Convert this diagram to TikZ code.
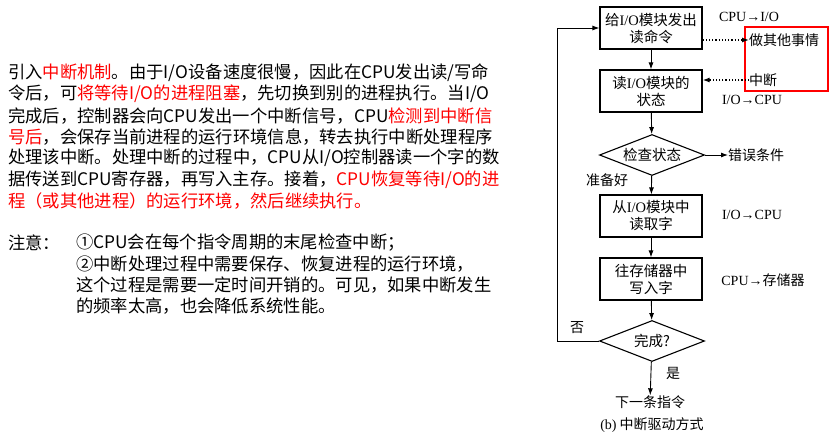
\documentclass[tikz,border=0pt]{standalone}
\usepackage{fontspec}
\setmainfont{Noto Sans CJK SC}
\newfontfamily\ser{Liberation Serif}
\usetikzlibrary{shapes.geometric,arrows.meta}
\begin{document}
\begin{tikzpicture}[x=1pt,y=-1pt,
  txt/.style={anchor=west,inner sep=0,font=\fontsize{17.3}{20}\selectfont},
  fbox/.style={draw,line width=1.2pt,minimum width=102pt,minimum height=42pt,align=center,inner sep=1pt,font=\fontsize{14.5}{17}\selectfont},
  dia/.style={draw,line width=1.1pt,diamond,aspect=2.5,minimum width=105pt,minimum height=41pt,inner sep=0,font=\fontsize{14.5}{17}\selectfont},
  lab/.style={inner sep=0,font=\fontsize{14}{16}\selectfont},
  arr/.style={-{Latex[length=7pt,width=5pt]},line width=0.9pt},
  darr/.style={-{Latex[length=7pt,width=5pt]},line width=1.2pt,dotted}]
\useasboundingbox (0,0) rectangle (834,439);
% left text
\node[txt] (l1) at (8,73) {引入\textcolor{red}{中断机制}。由于I/O设备速度很慢，因此在CPU发出读/写命};
\node[txt] (l2) at (8,94) {令后，可\textcolor{red}{将等待I/O的进程阻塞}，先切换到别的进程执行。当I/O};
\node[txt] (l3) at (8,116) {完成后，控制器会向CPU发出一个中断信号，CPU\textcolor{red}{检测到中断信}};
\node[txt] (l4) at (8,137) {\textcolor{red}{号后}，会保存当前进程的运行环境信息，转去执行中断处理程序};
\node[txt] (l5) at (8,158) {处理该中断。处理中断的过程中，CPU从I/O控制器读一个字的数};
\node[txt] (l6) at (8,180) {据传送到CPU寄存器，再写入主存。接着，\textcolor{red}{CPU恢复等待I/O的进}};
\node[txt] (l7) at (8,201) {\textcolor{red}{程（或其他进程）的运行环境，然后继续执行。}};
\node[txt] (n0) at (8,243) {注意：};
\node[txt] (n1) at (76,243) {①CPU会在每个指令周期的末尾检查中断；};
\node[txt] (n2) at (76,264) {②中断处理过程中需要保存、恢复进程的运行环境，};
\node[txt] (n3) at (76,285) {这个过程是需要一定时间开销的。可见，如果中断发生};
\node[txt] (n4) at (76,306) {的频率太高，也会降低系统性能。};
% flowchart
\node[fbox] (b1) at (651,28) {给{\ser I/O}模块发出\\读命令};
\node[fbox] (b2) at (651,91) {读{\ser I/O}模块的\\状态};
\node[dia] (d1) at (652,155) {检查状态};
\node[fbox] (b3) at (651,216) {从{\ser I/O}模块中\\读取字};
\node[fbox] (b4) at (651,279) {往存储器中\\写入字};
\node[dia] (d2) at (652,341) {完成?};
\node[lab] (next) at (650,402) {下一条指令};
\node[lab] (cap) at (652,425) {{\ser (b)} 中断驱动方式};
\node[draw=red,line width=1.2pt,minimum width=83pt,minimum height=64pt] (rb) at (786.5,59) {};
\node[lab,anchor=west] (other) at (749,40) {做其他事情};
\node[lab,anchor=west] (intr) at (749,80) {中断};
\node[lab,anchor=west] (err) at (728,155) {错误条件};
\node[lab] (t1) at (749,17) {\ser CPU→I/O};
\node[lab] (t2) at (752,100) {\ser I/O→CPU};
\node[lab] (t3) at (752,215) {\ser I/O→CPU};
\node[lab] (t4) at (763,280) {{\ser CPU→}存储器};
\node[lab] (ready) at (607,180) {准备好};
\node[lab] (no) at (577,328) {否};
\node[lab] (yes) at (673,373) {是};
\coordinate (c1) at (557,341);
\coordinate (c2) at (557,28);
\draw[arr] (b1) -- (b2);
\draw[arr] (b2) -- (d1);
\draw[arr] (d1) -- (b3);
\draw[arr] (b3) -- (b4);
\draw[arr] (b4) -- (d2);
\draw[arr] (d2) -- (next);
\draw[arr] (d1.east) -- (err.west);
\draw[arr] (d2.west) -- (c1) -- (c2) -- (b1.west);
\draw[darr] (b1.east|-other) -- (other.west);
\draw[darr] (intr.west) -- (b2.east|-intr);
\end{tikzpicture}
\end{document}
